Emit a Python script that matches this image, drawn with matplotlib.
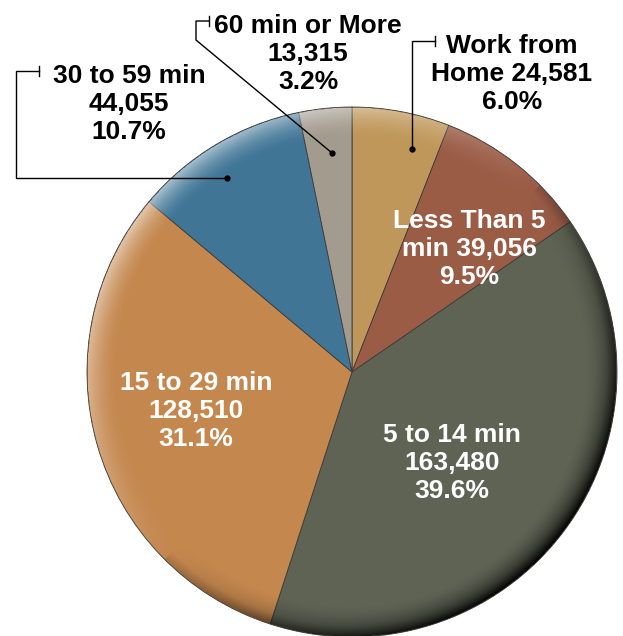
import matplotlib
matplotlib.use("Agg")
import matplotlib.pyplot as plt
import numpy as np
from matplotlib.patches import Circle

# 数据：通勤时间分布
CATEGORIES = ["Work from\nHome", "Less Than 5\nmin", "5 to 14 min", "15 to 29 min", "30 to 59 min", "60 min or More"]
COUNTS = [24581, 39056, 163480, 128510, 44055, 13315]
PERCENTS = [6.0, 9.5, 39.6, 31.1, 10.7, 3.2]
LABELS = [
    "Work from\nHome 24,581\n6.0%",
    "Less Than 5\nmin 39,056\n9.5%",
    "5 to 14 min\n163,480\n39.6%",
    "15 to 29 min\n128,510\n31.1%",
    "30 to 59 min\n44,055\n10.7%",
    "60 min or More\n13,315\n3.2%",
]
COLORS = ["#C0975A", "#9B5C46", "#5F6354", "#C4874E", "#407596", "#A49B8F"]

W, H = 623, 636
CENTER = (352, H - 372)
RADIUS = 265
FONT = "Liberation Sans"


def Y(py):
    """把像素 y 坐标换成数据坐标。"""
    return H - py


fig = plt.figure(figsize=(W / 100, H / 100), dpi=100)
ax = fig.add_axes([0, 0, 1, 1])

wedges, _ = ax.pie(
    COUNTS,
    colors=COLORS,
    startangle=90,
    counterclock=False,
    center=CENTER,
    radius=RADIUS,
    wedgeprops={"edgecolor": "#3a3a3a", "linewidth": 0.6},
    frame=True,
)
ax.set_xlim(0, W)
ax.set_ylim(0, H)
ax.set_aspect("equal")
ax.axis("off")

# 边缘立体效果：左上亮、右下暗
n = 700
xs = np.linspace(CENTER[0] - RADIUS, CENTER[0] + RADIUS, n)
ys = np.linspace(CENTER[1] - RADIUS, CENTER[1] + RADIUS, n)
gx, gy = np.meshgrid(xs, ys)
dx, dy = gx - CENTER[0], gy - CENTER[1]
r = np.hypot(dx, dy) / RADIUS
theta = np.arctan2(dy, dx)
edge = np.clip((r - 0.88) / 0.12, 0, 1) ** 1.8
direction = np.cos(theta - np.deg2rad(135))
overlay = np.zeros((n, n, 4))
light = direction > 0
overlay[..., :3] = np.where(light[..., None], 1.0, 0.0)
overlay[..., 3] = np.where(light, edge * direction * 0.55, edge * (-direction) * 0.85)
overlay[..., 3] += np.where(light, 0, np.clip((r - 0.96) / 0.04, 0, 1) * 0.15)
overlay[r > 1] = 0
img = ax.imshow(
    overlay,
    extent=(xs[0], xs[-1], ys[0], ys[-1]),
    origin="lower",
    zorder=3,
    interpolation="bilinear",
)
clip = Circle(CENTER, RADIUS, transform=ax.transData)
img.set_clip_path(clip)

text_kw = dict(fontsize=19, fontweight="bold", family=FONT, ha="center", va="center",
               linespacing=1.2, zorder=5)

# 饼内白色标签
inner_pos = {1: (469, 249), 2: (452, 463), 3: (196, 411)}
for idx, (px, py) in inner_pos.items():
    ax.text(px, Y(py), LABELS[idx], color="white", **text_kw)

# 饼外黑色标签
outer_pos = {0: (512, 74), 5: (308, 54), 4: (129, 104)}
for idx, (px, py) in outer_pos.items():
    ax.text(px, Y(py), LABELS[idx], color="black", **text_kw)


def wedge_point(i, frac, rfrac):
    w = wedges[i]
    ang = np.deg2rad(w.theta1 + (w.theta2 - w.theta1) * frac)
    return CENTER[0] + RADIUS * rfrac * np.cos(ang), CENTER[1] + RADIUS * rfrac * np.sin(ang)


def leader(points, anchor):
    xs_, ys_ = zip(*([anchor] + points))
    ax.plot(xs_, ys_, color="black", lw=1.0, zorder=6, solid_joinstyle="miter")
    ax.plot(*anchor, "o", color="black", ms=3.5, zorder=6)
    ex, ey = points[-1]
    ax.plot([ex, ex], [ey - 5, ey + 5], color="black", lw=1.0, zorder=6)


# Work from Home 引线
a = wedge_point(0, 0.3, 0.87)
leader([(a[0], Y(41)), (435, Y(41))], a)
# 60 min or More 引线
a = wedge_point(5, 0.45, 0.83)
leader([(196, Y(40)), (196, Y(21)), (209, Y(21))], a)
# 30 to 59 min 引线
a = wedge_point(4, 0.55, 0.87)
leader([(16, a[1]), (16, Y(71)), (39, Y(71))], a)

fig.savefig("out.png", dpi=100)
